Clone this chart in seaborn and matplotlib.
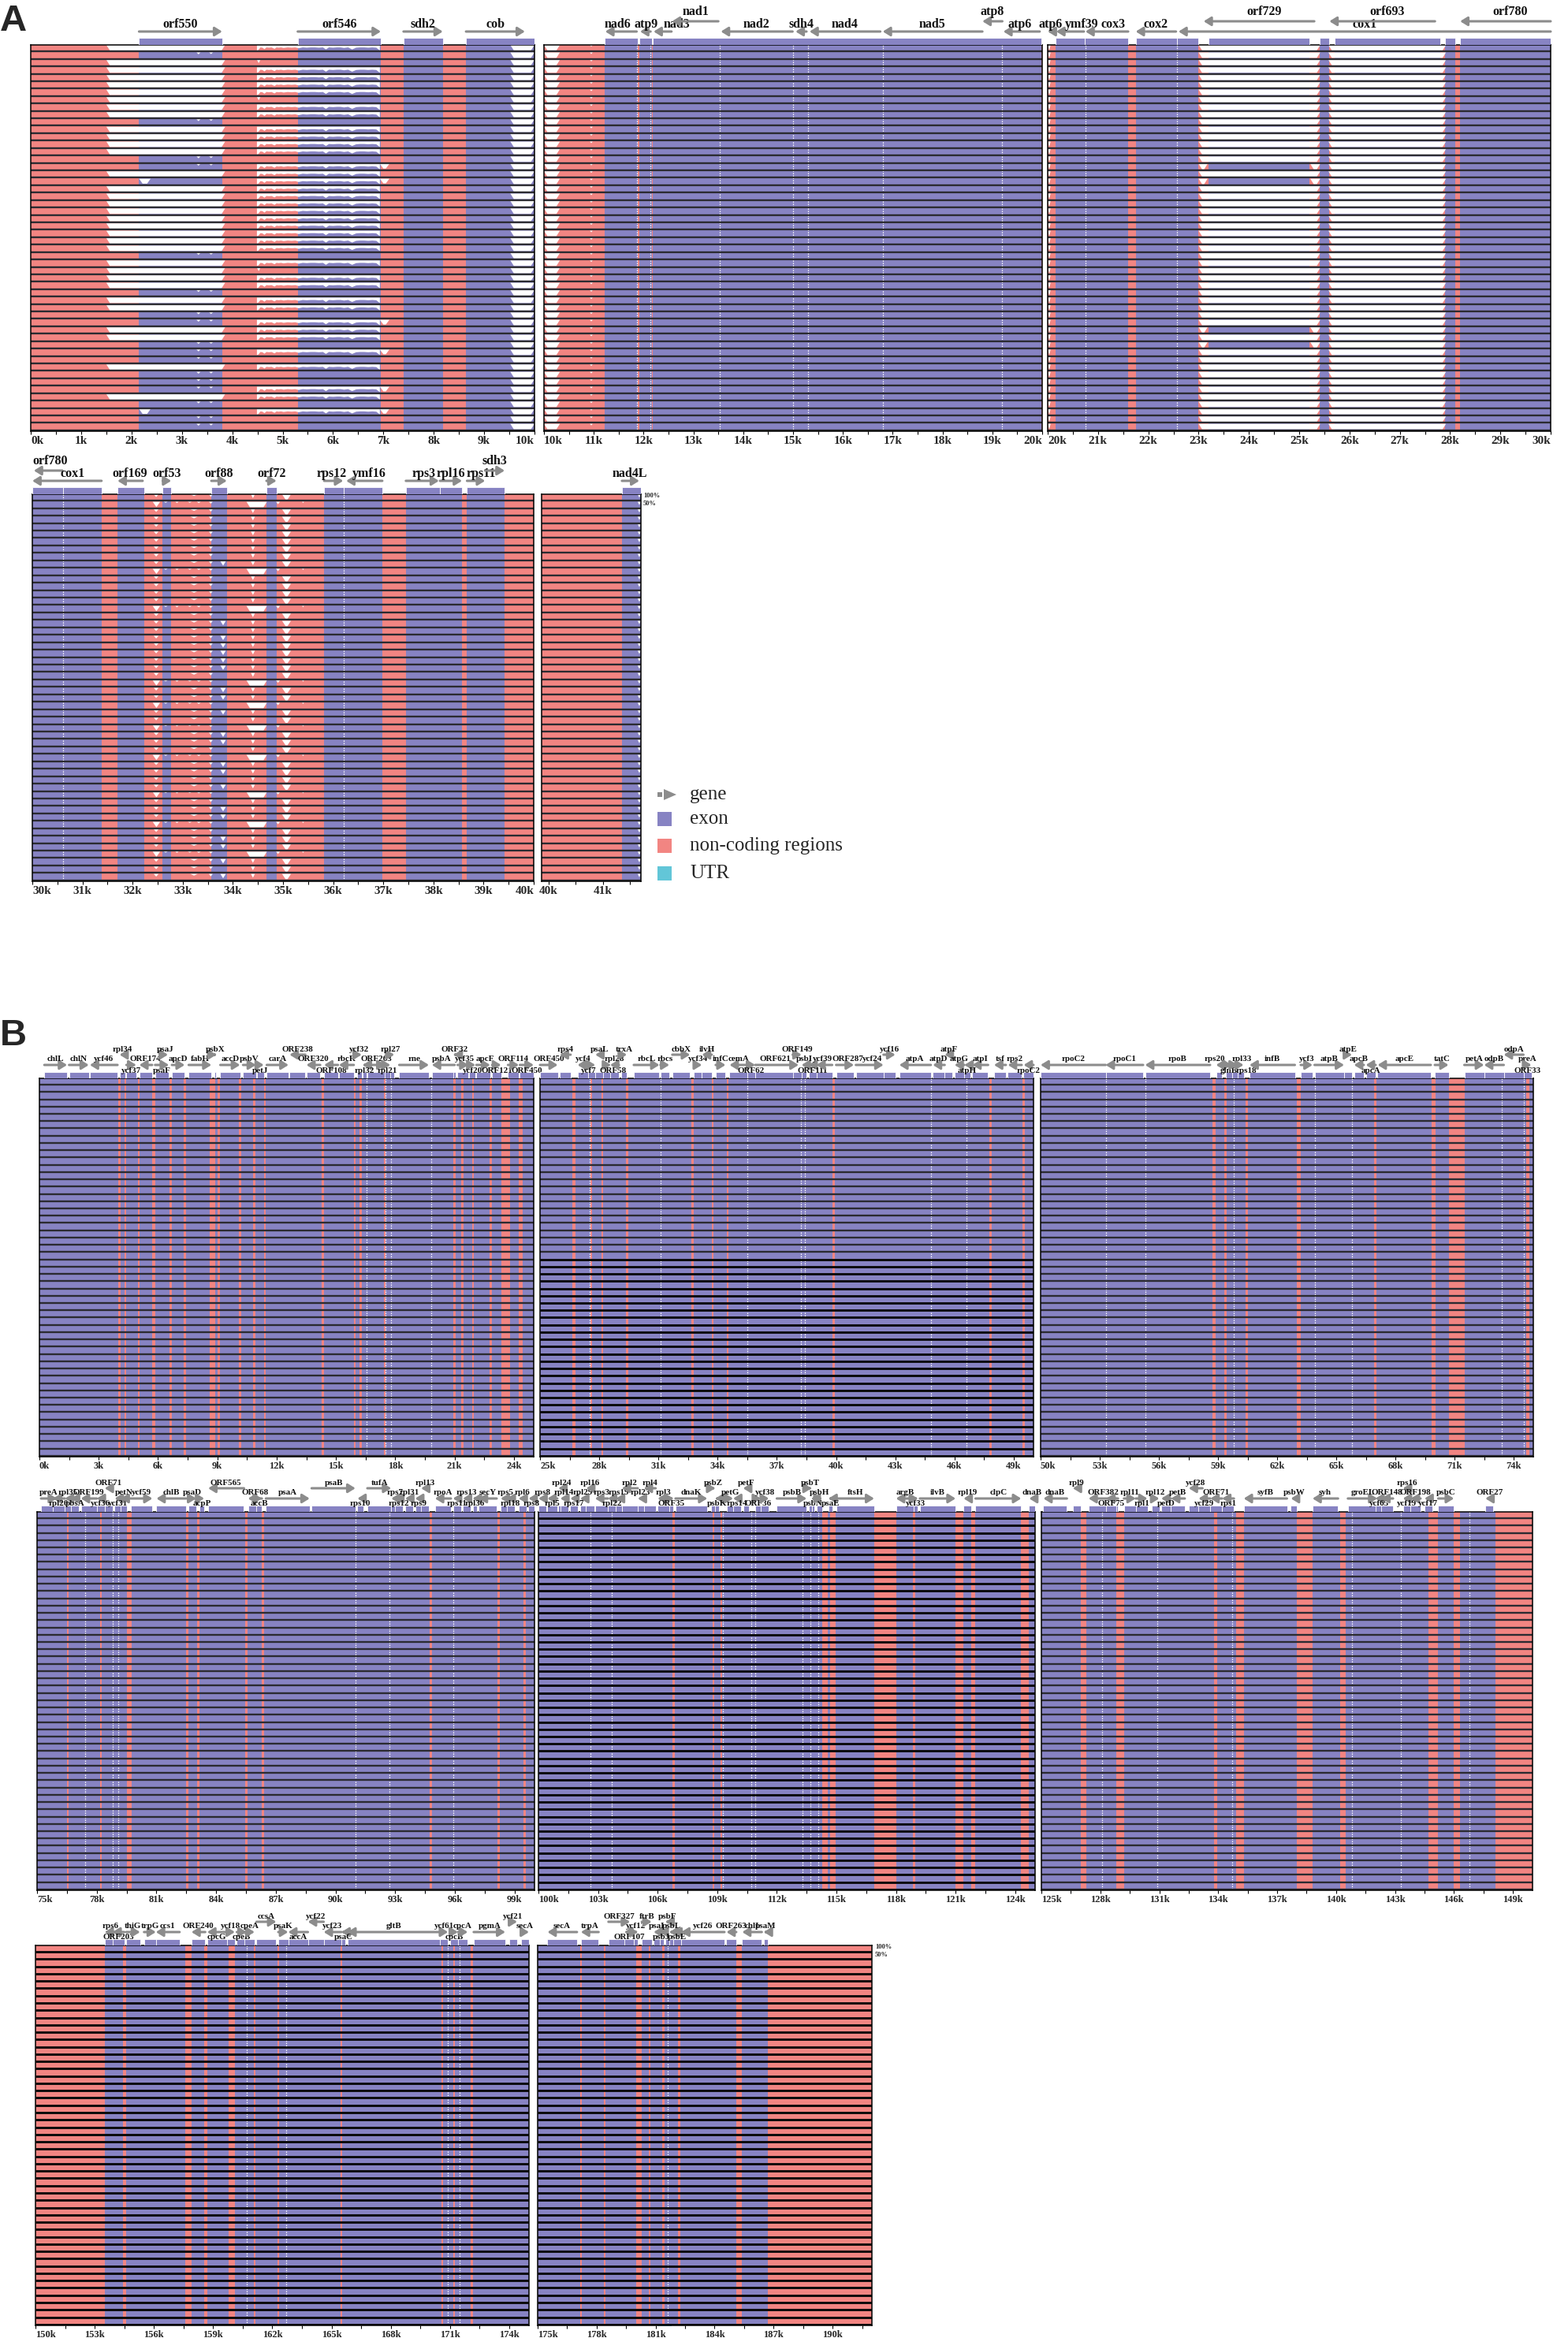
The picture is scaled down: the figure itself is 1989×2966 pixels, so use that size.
import numpy as np
import matplotlib
matplotlib.use("Agg")
import matplotlib.pyplot as plt
from matplotlib.patches import Rectangle, Polygon
from matplotlib.collections import PolyCollection
import seaborn as sns

# =========================
# 1. Style
# =========================
sns.set_theme(style="white")
plt.rcParams["font.family"] = ["Liberation Serif", "DejaVu Serif"]

W, H = 1989, 2966
N_TRACKS = 52
BAND = 0.75          # coloured part of one track, rest is the dark baseline
RAMP = 0.07          # slope width (kb) of a conservation drop
EXON_C = "#8783c3"
NC_C = "#f28582"
UTR_C = "#62c6d8"
GENE_C = "#8c8c8c"
BASE_C = "#2b2b31"

# =========================
# 2. Data (positions in kb)
# =========================
# gene tuples: name, start, end, strand, label level (0 main, 1 upper, -1 below), [label x]
A1P1_GENES = [("orf550", 2.15, 3.8, 1, 0), ("orf546", 5.3, 6.95, 1, 0),
              ("sdh2", 7.4, 8.18, 1, 0), ("cob", 8.64, 9.81, 1, 0)]
A1P1_EXONS = [(2.15, 3.8), (5.3, 6.95), (7.4, 8.18), (8.64, 10.0)]

A1P2_GENES = [("nad6", 11.23, 11.86, -1, 0, 11.48), ("atp9", 11.93, 12.14, -1, 0, 12.05),
              ("nad3", 12.2, 12.56, -1, 0, 12.66), ("nad1", 12.57, 13.5, -1, 1, 13.05),
              ("nad2", 13.55, 14.99, -1, 0), ("sdh4", 15.05, 15.27, -1, 0, 15.17),
              ("nad4", 15.33, 16.75, -1, 0), ("nad5", 16.8, 18.8, -1, 0),
              ("atp8", 18.8, 19.2, -1, 1), ("atp6", 19.22, 19.95, -1, 0, 19.55)]
A1P2_EXONS = [(11.22, 11.88), (11.92, 12.16), (12.18, 19.98)]
A1P2_DOTS = [11.87, 12.14, 13.53, 15.0, 15.3, 16.8, 19.2]

A1P3_GENES = [("atp6", 20.0, 20.1, -1, 0, 20.05), ("ymf39", 20.17, 20.72, -1, 0, 20.68),
              ("cox3", 20.75, 21.6, -1, 0, 21.3), ("cox2", 21.75, 22.55, -1, 0),
              ("cox1", 22.6, 30.0, -1, 0, 26.3), ("orf729", 23.1, 25.3, -1, 1, 24.3),
              ("orf693", 25.6, 27.7, -1, 1, 26.75), ("orf780", 28.2, 30.0, -1, 1, 29.2)]
A1P3_EXONS = [(20.15, 20.73), (20.73, 21.6), (21.75, 22.57), (22.57, 23.0), (23.2, 25.2),
              (25.4, 25.6), (25.7, 27.8), (27.9, 28.1), (28.2, 30.0)]
A1P3_DOTS = [20.75, 22.57]

A2P4_GENES = [("orf780", 30.03, 30.6, -1, 1, 30.36), ("cox1", 30.0, 31.38, -1, 0, 30.8),
              ("orf169", 31.7, 32.2, -1, 0), ("orf53", 32.6, 32.77, 1, 0),
              ("orf88", 33.57, 33.88, 1, 0), ("orf72", 34.67, 34.87, 1, 0),
              ("rps12", 35.82, 36.2, 1, 0, 35.97), ("ymf16", 36.26, 36.98, -1, 0, 36.72),
              ("rps3", 37.45, 38.11, 1, 0, 37.8), ("rpl16", 38.13, 38.57, 1, 0, 38.35),
              ("rps11", 38.67, 39.03, 1, 0, 38.95), ("sdh3", 39.03, 39.42, 1, 1)]
A2P4_EXONS = [(30.0, 30.61), (30.61, 31.38), (31.7, 32.23), (32.6, 32.77), (33.57, 33.88),
              (34.67, 34.87), (35.82, 36.21), (36.21, 36.98), (37.45, 38.13), (38.13, 38.57),
              (38.67, 39.42)]
A2P4_DOTS = [30.61, 36.21]

A2P5_GENES = [("nad4L", 41.35, 41.67, 1, 0, 41.5)]
A2P5_EXONS = [(41.35, 41.7)]

# low-identity stretches per track type: (start, end, depth of the white drop)
A1P1_PATTERNS = {
    "n": [(1.5, 3.86, 1.0), (9.52, 10.0, 1.0)],
    "a": [(3.29, 3.37, 0.35), (3.54, 3.62, 0.3), (9.52, 10.0, 1.0)],
    "b": [(1.5, 3.86, 1.0), (4.49, 4.56, 0.6), (9.52, 10.0, 1.0)],
    "c": [(3.29, 3.37, 0.35), (3.54, 3.62, 0.3), (6.93, 7.12, 0.85), (9.52, 10.0, 1.0)],
    "d": [(2.15, 2.38, 0.9), (6.93, 7.12, 0.85), (9.52, 10.0, 1.0)],
}
A1P1_ROWS = "nabnnnnbnnannnnacndnnnnnnn" + "nnanbnnannacnnacana" + "acnadaa"
A1P1_JAG_CODES = "ncd"
# jagged conservation profile inside orf546 (x in kb, white depth)
JAG_X = [4.49, 4.52, 4.56, 4.60, 4.64, 4.68, 4.73, 4.78, 4.84, 4.88, 4.92, 4.97, 5.02,
         5.10, 5.18, 5.25, 5.32, 5.40, 5.48, 5.56, 5.64, 5.72, 5.80, 5.86, 5.92, 6.00,
         6.08, 6.15, 6.22, 6.30, 6.38, 6.46, 6.54, 6.62, 6.70, 6.78, 6.86, 6.93]
JAG_D = [1.0, 0.9, 0.45, 0.5, 0.75, 0.45, 0.5, 0.45, 0.7, 0.45, 0.5, 0.45, 0.55,
         0.45, 0.5, 0.45, 0.6, 0.45, 0.5, 0.45, 0.45, 0.5, 0.45, 0.8, 0.45, 0.5,
         0.45, 0.45, 0.55, 0.45, 0.8, 0.5, 0.45, 0.45, 0.5, 0.45, 0.5, 1.0]

A1P2_PATTERNS = {"u": [(10.0, 10.32, 1.0), (10.92, 10.98, 0.3)]}

A1P3_PATTERNS = {
    "n": [(20.0, 20.06, 1.0), (23.0, 25.42, 1.0), (25.58, 27.92, 1.0)],
    "p": [(20.0, 20.06, 1.0), (23.0, 23.18, 1.0), (25.22, 25.42, 1.0), (25.58, 27.92, 1.0)],
}
A1P3_ROWS = "nnnnnnnnnnnnnnnn" + "pnp" + "nnnnnnnnnnnnnnnnnnn" + "pnp" + "nnnnnnnnnnn"

A2P4_PATTERNS = {
    "n": [(32.42, 32.52, 0.5), (33.15, 33.3, 0.3), (33.52, 33.6, 0.45),
          (34.36, 34.44, 0.7), (34.98, 35.16, 0.95)],
    "w": [(32.4, 32.55, 0.9), (32.62, 32.7, 0.2), (32.85, 32.92, 0.25), (33.1, 33.18, 0.2),
          (33.28, 33.36, 0.25), (33.52, 33.6, 0.35), (34.27, 34.68, 1.0),
          (34.86, 34.94, 0.45), (35.38, 35.42, 0.25)],
    "m": [(32.42, 32.52, 0.5), (33.15, 33.3, 0.3), (33.52, 33.6, 0.45), (33.75, 33.86, 0.8),
          (34.36, 34.44, 0.7), (34.98, 35.16, 0.95)],
}
A2P4_ROWS = "nwnnnnnnnmwnnnnwnmnmmmmm" + "nwmmwmnwmmnwmmnmwnmmwnmmwmnm"

A2P5_PATTERNS = {"u": [(41.64, 41.7, 0.6)]}

# ---- panel B ----
B1P1_GENES = [("chlL", 0.25, 1.4, 1, 0), ("chlN", 1.5, 2.5, 1, 0), ("ycf46", 2.55, 3.95, -1, 0),
              ("rpl34", 4.05, 4.35, -1, 1), ("ycf37", 4.4, 4.9, 1, -1), ("ORF174", 5.05, 5.7, -1, 0),
              ("psaJ", 6.25, 6.5, 1, 1), ("psaF", 5.85, 6.55, 1, -1), ("apcD", 6.7, 7.35, 1, 0),
              ("fabH", 7.55, 8.7, 1, 0), ("psbX", 8.85, 8.95, 1, 1), ("accD", 9.15, 10.15, 1, 0),
              ("psbV", 10.3, 10.95, 1, 0), ("petJ", 11.0, 11.35, 1, -1), ("carA", 11.5, 12.6, 1, 0),
              ("ORF238", 12.65, 13.45, -1, 1), ("ORF320", 13.5, 14.2, -1, 0),
              ("ORF108", 14.4, 15.1, -1, -1), ("rbcR", 15.15, 15.9, -1, 0),
              ("ycf32", 16.05, 16.3, 1, 1), ("rpl32", 16.35, 16.55, -1, -1),
              ("ORF263", 16.6, 17.5, 1, 0), ("rpl27", 17.6, 17.95, 1, 1),
              ("rpl21", 17.45, 17.75, 1, -1), ("rne", 18.2, 19.7, 1, 0),
              ("psbA", 19.85, 21.0, -1, 0, 20.35), ("ORF32", 20.95, 21.05, -1, 1),
              ("ycf35", 21.15, 21.7, 1, 0, 21.5), ("ycf20", 21.75, 22.05, 1, -1),
              ("apcF", 22.1, 22.8, 1, 0, 22.55), ("ORF121", 22.9, 23.35, 1, -1),
              ("ORF114", 23.7, 24.25, 1, 0), ("ORF450", 24.3, 25.0, 1, -1)]
B1P1_NC = [(4.0, 4.12), (4.3, 4.4), (4.98, 5.08), (5.7, 5.85), (6.58, 6.7), (7.28, 7.4),
           (8.6, 8.9), (9.0, 9.12), (10.1, 10.22), (10.8, 10.92), (11.36, 11.46),
           (14.26, 14.4), (15.9, 16.0), (16.2, 16.3), (17.42, 17.52), (20.95, 21.05),
           (21.35, 21.45), (21.88, 21.98), (22.78, 22.88), (23.36, 23.8), (24.25, 24.45)]
B1P1_DOTS = [16.56, 17.5, 17.8, 19.8]

B1P2_GENES = [("ORF450", 25.0, 25.9, 1, 0), ("rps4", 26.0, 26.55, -1, 1), ("ycf4", 26.9, 27.45, -1, 0),
              ("ycf7", 27.45, 27.8, 1, -1, 27.45), ("psaL", 27.8, 28.2, -1, 1), ("ORF58", 28.2, 28.6, 1, -1, 28.7),
              ("rpl28", 28.55, 29.0, -1, 0), ("trxA", 29.1, 29.4, 1, 1), ("rbcL", 29.75, 31.05, 1, 0),
              ("rbcs", 31.1, 31.55, 1, 0), ("cbbX", 31.7, 32.6, 1, 1), ("ycf34", 32.8, 33.2, 1, 0),
              ("ilvH", 33.2, 33.7, -1, 1), ("infC", 33.9, 34.4, 1, 0), ("cemA", 34.6, 35.5, -1, 0),
              ("ORF62", 35.5, 35.9, 1, -1), ("ORF621", 35.9, 38.1, 1, 0, 36.9), ("ORF149", 37.8, 38.25, 1, 1),
              ("psbI", 38.25, 38.5, -1, 0), ("ORF111", 38.6, 39.0, -1, -1), ("ycf39", 39.0, 39.8, -1, 0, 39.3),
              ("ORF287", 40.0, 40.9, 1, 0, 40.6), ("ycf24", 41.0, 42.4, 1, 0, 41.85), ("ycf16", 42.4, 43.0, 1, 1),
              ("atpA", 43.2, 44.8, -1, 0), ("atpD", 44.9, 45.5, -1, 0), ("atpF", 45.5, 45.9, -1, 1),
              ("atpG", 46.0, 46.5, -1, 0), ("atpH", 46.5, 46.8, -1, -1), ("atpI", 46.9, 47.7, -1, 0),
              ("tsf", 48.0, 48.6, -1, 0), ("rps2", 48.7, 49.4, -1, 0), ("rpoC2", 49.5, 50.0, -1, -1)]
B1P2_NC = [(26.65, 26.8), (27.55, 27.65), (28.1, 28.2), (29.35, 29.48), (32.65, 32.78),
           (33.7, 33.8), (34.45, 34.55), (39.8, 39.92), (47.75, 47.88), (49.45, 49.55)]
B1P2_DOTS = [27.5, 31.1, 35.5, 38.2, 38.4, 44.8, 46.6]

B1P3_GENES = [("rpoC2", 50.0, 53.3, -1, 0), ("rpoC1", 53.3, 55.2, -1, 0), ("rpoB", 55.3, 58.6, -1, 0),
              ("rps20", 58.9, 59.2, -1, 0, 58.85), ("glnB", 59.4, 59.7, 1, -1), ("rpl33", 59.7, 60.0, 1, 0, 60.2),
              ("rps18", 60.0, 60.3, 1, -1, 60.45), ("infB", 60.6, 62.9, -1, 0), ("ycf3", 63.2, 63.8, 1, 0),
              ("atpB", 63.9, 65.4, 1, 0), ("atpE", 65.4, 65.8, 1, 1), ("apcB", 65.9, 66.4, -1, 0),
              ("apcA", 66.5, 67.0, -1, -1), ("apcE", 67.1, 69.8, -1, 0), ("tatC", 70.0, 70.7, 1, 0),
              ("petA", 71.5, 72.5, 1, 0), ("odpB", 72.5, 73.5, -1, 0), ("odpA", 73.5, 74.5, -1, 1),
              ("preA", 74.5, 74.9, 1, 0), ("ORF33", 74.5, 74.9, 1, -1)]
B1P3_NC = [(58.72, 58.88), (59.3, 59.42), (60.4, 60.52), (63.0, 63.2), (66.9, 67.05),
           (69.85, 70.05), (70.7, 71.5), (74.65, 74.78)]
B1P3_DOTS = [53.3, 55.3, 59.8, 63.9, 65.8, 73.4, 74.5]

B2P1_GENES = [("preA", 75.2, 76.0, 1, 0), ("rpl20", 75.8, 76.4, -1, -1), ("rpl35", 76.4, 76.7, -1, 0),
              ("pbsA", 76.7, 77.1, -1, -1), ("ORF199", 77.2, 78.0, -1, 0), ("ycf36", 78.0, 78.4, -1, -1),
              ("ORF71", 78.4, 78.8, -1, 1), ("ycf31", 78.9, 79.2, -1, -1), ("petN", 79.2, 79.5, -1, 0),
              ("ycf59", 79.7, 80.8, 1, 0), ("chlB", 81.0, 82.5, -1, 0), ("psaD", 82.6, 83.0, 1, 0),
              ("acpP", 83.15, 83.4, 1, -1), ("ORF565", 83.6, 85.4, -1, 1), ("ORF68", 85.6, 86.3, -1, 0),
              ("accB", 86.0, 86.3, 1, -1), ("psaA", 86.5, 88.7, 1, 0), ("psaB", 88.8, 91.0, 1, 1),
              ("rps10", 91.1, 91.4, -1, -1), ("tufA", 91.6, 92.8, 1, 1), ("rps7", 92.8, 93.2, -1, 0),
              ("rps12", 93.0, 93.4, -1, -1), ("rpl31", 93.5, 93.9, -1, 0), ("rps9", 94.0, 94.4, -1, -1),
              ("rpl13", 94.3, 94.7, -1, 1), ("rpoA", 95.0, 95.8, -1, 0), ("rps11", 95.9, 96.3, -1, -1),
              ("rps13", 96.4, 96.8, -1, 0), ("rpl36", 96.9, 97.1, -1, -1), ("secY", 97.2, 98.1, -1, 0),
              ("rps5", 98.3, 98.8, -1, 0), ("rpl18", 98.6, 99.0, -1, -1), ("rpl6", 99.2, 99.6, -1, 0),
              ("rps8", 99.7, 100.0, -1, -1)]
B2P1_NC = [(76.5, 76.6), (78.15, 78.25), (79.5, 79.75), (82.5, 82.62), (83.05, 83.15),
           (85.45, 85.58), (86.3, 86.42), (94.75, 94.85), (98.15, 98.25), (99.45, 99.55)]
B2P1_DOTS = [77.4, 78.8, 79.1, 91.0, 92.7, 95.9]

B2P2_GENES = [("rps8", 100.0, 100.4, -1, 0), ("rpl5", 100.45, 100.95, -1, -1), ("rpl24", 101.0, 101.3, -1, 1),
              ("rpl14", 101.1, 101.5, -1, 0), ("rps17", 101.6, 102.0, -1, -1), ("rpl29", 102.1, 102.4, -1, 0),
              ("rpl16", 102.4, 102.8, -1, 1), ("rps3", 102.85, 103.5, -1, 0), ("rpl22", 103.5, 103.9, -1, -1),
              ("rps19", 103.9, 104.2, -1, 0), ("rpl2", 104.2, 105.0, -1, 1), ("rpl23", 105.0, 105.3, -1, 0),
              ("rpl4", 105.3, 105.9, -1, 1), ("rpl3", 106.0, 106.6, -1, 0), ("ORF35", 106.6, 106.8, 1, -1),
              ("dnaK", 106.9, 108.5, 1, 0), ("psbZ", 108.7, 108.9, 1, 1), ("psbK", 108.9, 109.1, -1, -1),
              ("petG", 109.5, 109.8, 1, 0), ("rps14", 109.8, 110.2, -1, -1), ("petF", 110.3, 110.6, -1, 1),
              ("ORF36", 110.9, 111.2, 1, -1), ("ycf38", 111.2, 111.6, 1, 0), ("psbB", 112.0, 113.5, 1, 0),
              ("psbT", 113.6, 113.75, 1, 1), ("psbN", 113.75, 113.9, -1, -1), ("psbH", 114.0, 114.3, 1, 0),
              ("psaE", 114.6, 114.8, -1, -1), ("ftsH", 115.0, 116.9, 1, 0), ("argB", 118.0, 118.9, -1, 0),
              ("ycf33", 118.9, 119.1, 1, -1), ("ilvB", 119.2, 121.0, 1, 0), ("rpl19", 121.4, 121.8, -1, 0),
              ("clpC", 122.0, 124.3, 1, 0), ("dnaB", 124.7, 125.0, -1, 0)]
B2P2_NC = [(106.75, 106.88), (108.75, 108.85), (109.15, 109.25), (114.3, 114.55), (114.7, 114.95),
           (116.9, 118.0), (118.85, 118.95), (121.0, 121.4), (121.8, 122.0), (124.3, 124.7)]
B2P2_DOTS = [102.6, 103.7, 109.3, 110.7, 110.9, 113.3, 113.7, 114.1]

B2P3_GENES = [("dnaB", 125.1, 126.3, -1, 0), ("rpl9", 126.6, 127.0, -1, 1), ("ORF382", 127.4, 128.9, -1, 0),
              ("ORF75", 128.3, 128.8, -1, -1), ("rpl11", 129.2, 129.8, 1, 0), ("rpl1", 129.8, 130.4, 1, -1),
              ("rpl12", 130.6, 131.0, 1, 0), ("petD", 131.1, 131.6, -1, -1), ("petB", 131.6, 132.3, -1, 0),
              ("ycf28", 132.5, 133.2, -1, 1), ("ycf29", 133.0, 133.6, -1, -1), ("ORF71", 133.6, 134.2, -1, 0),
              ("rps1", 134.2, 134.8, -1, -1), ("syfB", 135.3, 137.5, -1, 0), ("psbW", 137.7, 138.0, -1, 0),
              ("syh", 138.8, 140.1, -1, 0), ("groEL", 140.6, 142.1, 1, 0), ("ycf65", 142.0, 142.4, -1, -1),
              ("ORF148", 142.3, 142.9, -1, 0), ("ycf19", 143.4, 143.8, -1, -1), ("rps16", 143.4, 143.8, -1, 1),
              ("ORF198", 143.8, 144.3, -1, 0), ("ycf17", 144.5, 144.9, -1, -1), ("psbC", 145.2, 146.0, 1, 0),
              ("ORF27", 147.6, 148.0, -1, 0)]
B2P3_NC = [(127.0, 127.3), (128.8, 129.2), (133.8, 133.95), (134.9, 135.3), (138.0, 138.8),
           (140.2, 140.5), (144.7, 145.2), (146.0, 146.3), (148.1, 150.0)]
B2P3_DOTS = [128.1, 130.9, 134.7, 140.8, 143.3, 146.8]

B3P1_GENES = [("rps6", 153.5, 154.1, -1, 0), ("ORF203", 153.9, 154.5, -1, -1), ("thiG", 154.6, 155.3, 1, 0),
              ("trpG", 155.5, 156.1, 1, 0), ("ccs1", 156.1, 157.3, -1, 0), ("ORF240", 157.9, 158.6, -1, 0),
              ("cpcG", 158.7, 159.7, -1, -1), ("ycf18", 159.7, 160.1, 1, 0), ("cpeB", 160.2, 160.7, 1, -1),
              ("cpeA", 160.6, 161.1, 1, 0), ("ccsA", 161.2, 162.2, 1, 1), ("psaK", 162.3, 162.8, 1, 0),
              ("accA", 162.8, 163.8, -1, -1), ("ycf22", 163.8, 164.6, -1, 1), ("ycf23", 164.6, 165.5, -1, 0),
              ("psaC", 165.5, 165.7, -1, -1), ("gltB", 165.8, 170.5, -1, 0), ("ycf61", 170.5, 170.9, 1, 0),
              ("cpcB", 171.0, 171.4, 1, -1), ("cpcA", 171.4, 171.9, 1, 0), ("pgmA", 172.2, 173.8, 1, 0),
              ("ycf21", 174.0, 174.4, 1, 1), ("secA", 174.6, 175.0, 1, 0)]
B3P1_NC = [(150.0, 153.5), (154.45, 154.6), (157.6, 157.9), (158.55, 158.7), (159.8, 160.1),
           (161.05, 161.15), (162.25, 162.35), (165.45, 165.55), (170.55, 170.65),
           (171.15, 171.25), (172.05, 172.15)]
B3P1_DOTS = [160.7, 162.7, 170.9, 171.5]

B3P2_GENES = [("secA", 175.5, 177.0, -1, 0), ("trpA", 177.2, 178.1, -1, 0), ("ORF327", 178.6, 179.7, 1, 1),
              ("ORF107", 179.4, 179.9, -1, -1), ("ycf12", 179.9, 180.1, 1, 0), ("ftrB", 180.3, 180.8, 1, 1),
              ("psaI", 180.9, 181.2, -1, 0), ("psbJ", 181.2, 181.4, -1, -1), ("psbF", 181.5, 181.7, -1, 1),
              ("psbL", 181.7, 181.9, -1, 0), ("psbE", 181.9, 182.3, -1, -1), ("ycf26", 182.3, 184.5, -1, 0),
              ("ORF263", 184.6, 185.1, -1, 0), ("chlI", 185.4, 186.4, -1, 0), ("psaM", 186.5, 186.7, -1, 0)]
B3P2_NC = [(177.15, 177.25), (178.35, 178.45), (180.0, 180.3), (180.65, 180.75), (181.35, 181.45),
           (182.15, 182.25), (185.1, 185.4), (186.7, 192.0)]
B3P2_DOTS = [181.6]

# first track from which the baselines look heavy black in each B panel
B_HEAVY_FROM = [52, 24, 52, 52, 0, 52, 0, 0]

LEGEND_LABELS = ["gene", "exon", "non-coding regions", "UTR"]

# =========================
# 3. Panel table (pixel boxes: left, top, right, bottom)
# =========================
UNIFORM = "u" * N_TRACKS
PANELS = [
    dict(kind="A", box=(39, 57, 678, 547), xlim=(0, 10), tick0=0, genes=A1P1_GENES, exons=A1P1_EXONS,
         rows=A1P1_ROWS, patterns=A1P1_PATTERNS, jag=A1P1_JAG_CODES, dots=[]),
    dict(kind="A", box=(690, 57, 1322, 547), xlim=(10, 20), tick0=10, genes=A1P2_GENES, exons=A1P2_EXONS,
         rows=UNIFORM, patterns=A1P2_PATTERNS, dots=A1P2_DOTS),
    dict(kind="A", box=(1329, 57, 1967, 547), xlim=(20, 30), tick0=20, genes=A1P3_GENES, exons=A1P3_EXONS,
         rows=A1P3_ROWS, patterns=A1P3_PATTERNS, dots=A1P3_DOTS),
    dict(kind="A", box=(41, 627, 677, 1118), xlim=(30, 40), tick0=30, genes=A2P4_GENES, exons=A2P4_EXONS,
         rows=A2P4_ROWS, patterns=A2P4_PATTERNS, dots=A2P4_DOTS),
    dict(kind="A", box=(687, 627, 813, 1118), xlim=(39.87, 41.7), tick0=40, genes=A2P5_GENES,
         exons=A2P5_EXONS, rows=UNIFORM, patterns=A2P5_PATTERNS, dots=[]),
]
B_BOXES = [(50, 1368, 677, 1848), (685, 1368, 1311, 1848), (1320, 1368, 1945, 1848),
           (47, 1918, 678, 2398), (683, 1918, 1313, 2398), (1321, 1918, 1944, 2398),
           (45, 2468, 671, 2950), (682, 2468, 1106, 2950)]
B_XLIMS = [(0, 25), (25, 50), (50, 75), (75, 100), (100, 125), (125, 150), (150, 175), (175, 192)]
B_GENES = [B1P1_GENES, B1P2_GENES, B1P3_GENES, B2P1_GENES, B2P2_GENES, B2P3_GENES, B3P1_GENES, B3P2_GENES]
B_NC = [B1P1_NC, B1P2_NC, B1P3_NC, B2P1_NC, B2P2_NC, B2P3_NC, B3P1_NC, B3P2_NC]
B_DOTS = [B1P1_DOTS, B1P2_DOTS, B1P3_DOTS, B2P1_DOTS, B2P2_DOTS, B2P3_DOTS, B3P1_DOTS, B3P2_DOTS]
for box, xl, genes, nc, dots, hv in zip(B_BOXES, B_XLIMS, B_GENES, B_NC, B_DOTS, B_HEAVY_FROM):
    PANELS.append(dict(kind="B", box=box, xlim=xl, tick0=xl[0], genes=genes, nc=nc,
                       dots=dots, heavy=hv))

STYLE = {
    "A": dict(step=1, lab_fs=11.5, tick_fs=11, bar=9, levels={0: (26, 17), 1: (42, 30), -1: (9, 17)}),
    "B": dict(step=3, lab_fs=7.9, tick_fs=9, bar=8, levels={0: (25, 17), 1: (37, 30), -1: (10, 17)}),
}
HEAD_PX = 50

# =========================
# 4. Drawing
# =========================
fig = plt.figure(figsize=(W / 100, H / 100), dpi=100)


def px_axes(x0, y0, x1, y1):
    return fig.add_axes([x0 / W, 1 - y1 / H, (x1 - x0) / W, (y1 - y0) / H])


ov = px_axes(0, 0, W, H)
ov.set_xlim(0, W)
ov.set_ylim(H, 0)
ov.axis("off")


def draw_tracks(ax, p):
    x0, x1 = p["xlim"]
    if p.get("exons") is not None:
        ax.axvspan(x0, x1, color=NC_C, lw=0)
        for s, e in p["exons"]:
            ax.axvspan(s, e, color=EXON_C, lw=0)
    else:
        ax.axvspan(x0, x1, color=EXON_C, lw=0)
        for s, e in p["nc"]:
            ax.axvspan(s, e, color=NC_C, lw=0)

    polys = []
    for i, code in enumerate(p.get("rows", "")):
        for s, e, d in p["patterns"].get(code, []):
            r = min(RAMP, (e - s) / 2)
            y = i + d * BAND
            polys.append([(s, i), (s + r, y), (e - r, y), (e, i)])
        if code in p.get("jag", ""):
            pts = [(JAG_X[0], i)] + [(x, i + d * BAND) for x, d in zip(JAG_X, JAG_D)] + [(JAG_X[-1], i)]
            polys.append(pts)
    if polys:
        ax.add_collection(PolyCollection(polys, facecolors="white", edgecolors="none"))

    if p["dots"]:
        ax.vlines(p["dots"], 0, N_TRACKS, colors="white", linestyles=(0, (1.2, 1.2)), lw=0.9)

    rows_y = np.arange(N_TRACKS) + (1 + BAND) / 2
    hv = p.get("heavy", N_TRACKS)
    ax.hlines(rows_y[:hv], x0, x1, colors=BASE_C, lw=1.7)
    if hv < N_TRACKS:
        ax.hlines(rows_y[hv:], x0, x1, colors="#0a0a0a", lw=2.1)
    ax.set_xlim(x0, x1)
    ax.set_ylim(N_TRACKS, 0)
    ax.set_yticks([])
    for sp in ax.spines.values():
        sp.set_visible(True)
        sp.set_color("black")
        sp.set_linewidth(1.1)

    st = STYLE[p["kind"]]
    major = np.arange(p["tick0"], x1 + 1e-6, st["step"])
    minor = major[:-1] + st["step"] / 2
    if major[-1] + st["step"] / 2 < x1:
        minor = np.append(minor, major[-1] + st["step"] / 2)
    ax.set_xticks(major)
    ax.set_xticklabels([f"{v:g}k" for v in major], fontweight="bold", fontsize=st["tick_fs"])
    ax.set_xticks(minor, minor=True)
    ax.tick_params(axis="x", which="both", bottom=True, direction="out", length=3,
                   width=0.8, color="black", pad=1.5)
    # labels sitting on the panel edges are pushed inside, as in the original figure
    for v, lbl in zip(major, ax.get_xticklabels()):
        if abs(v - x0) < 1e-6:
            lbl.set_horizontalalignment("left")
        elif abs(v - x1) < 1e-6:
            lbl.set_horizontalalignment("right")


def draw_header(hx, p):
    st = STYLE[p["kind"]]
    hx.set_xlim(*p["xlim"])
    hx.set_ylim(0, HEAD_PX)
    hx.axis("off")
    if p.get("exons") is not None:
        bars = p["exons"]
    else:
        bars = [(g[1], g[2]) for g in p["genes"]]
    for s, e in bars:
        hx.add_patch(Rectangle((s, 0), e - s, st["bar"], facecolor=EXON_C,
                               edgecolor="white", lw=0.6))
    for g in p["genes"]:
        name, s, e, strand, lev = g[:5]
        lx = g[5] if len(g) > 5 else (s + e) / 2
        ly, ay = st["levels"][lev]
        a, b = (s, e) if strand > 0 else (e, s)
        hx.annotate("", xy=(b, ay), xytext=(a, ay), annotation_clip=False,
                    arrowprops=dict(arrowstyle="-|>,head_length=0.45,head_width=0.28",
                                    color=GENE_C, lw=2.2, shrinkA=0, shrinkB=0))
        hx.text(lx, ly, name, ha="center", va="center", fontsize=st["lab_fs"],
                fontweight="bold", color="#111111", clip_on=False)


for p in PANELS:
    x0, y0, x1, y1 = p["box"]
    ax = px_axes(x0, y0, x1, y1)
    draw_tracks(ax, p)
    hx = px_axes(x0, y0 - HEAD_PX, x1, y0)
    draw_header(hx, p)

# panel letters
ov.text(17, 27, "A", fontsize=34, fontweight="bold", family="Liberation Sans", ha="center", va="center")
ov.text(17, 1314, "B", fontsize=34, fontweight="bold", family="Liberation Sans", ha="center", va="center")

# 100% / 50% scale marks
for sx, sy in [(816, 629), (1110, 2470)]:
    ov.text(sx, sy, "100%", fontsize=6, fontweight="bold", ha="left", va="center")
    ov.text(sx, sy + 10, "50%", fontsize=6, fontweight="bold", ha="left", va="center")


# legends
def draw_legend(ys):
    gy = ys[0]
    ov.add_patch(Rectangle((834, gy - 3), 6, 6, color=GENE_C, lw=0))
    ov.add_patch(Polygon([(842, gy - 7), (842, gy + 7), (858, gy)], closed=True, color=GENE_C, lw=0))
    for y, c in zip(ys[1:], [EXON_C, NC_C, UTR_C]):
        ov.add_patch(Rectangle((834, y - 9), 18, 18, color=c, lw=0))
    for y, lab in zip(ys, LEGEND_LABELS):
        ov.text(875, y, lab, fontsize=18, ha="left", va="center")


draw_legend([1008, 1039, 1073, 1108])
draw_legend([2851, 2881, 2912, 2942])

fig.savefig("out.png", dpi=100)
